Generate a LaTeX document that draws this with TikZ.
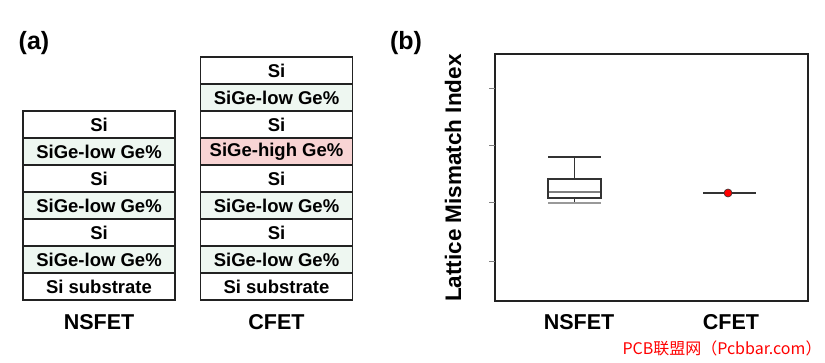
\documentclass[tikz,border=0pt]{standalone}
\usepackage{fontspec}
\setmainfont{Liberation Sans}
\newfontfamily\cjk{Noto Sans CJK SC}

\begin{document}
\begin{tikzpicture}[x=1pt, y=-1pt,
    layer/.style={draw=borderColour, line width=1.2pt, minimum width=152pt,
        minimum height=\layerH pt, inner sep=0pt,
        font=\fontsize{18.5}{20}\selectfont\bfseries},
    stackLabel/.style={font=\fontsize{21.5}{24}\selectfont\bfseries},
    panelLabel/.style={font=\fontsize{25}{28}\selectfont\bfseries}]
    \definecolor{borderColour}{HTML}{222222}
    \definecolor{fillColourLow}{HTML}{EEF7F1}
    \definecolor{fillColourHigh}{HTML}{F8D4D4}
    \definecolor{boxColour}{HTML}{333333}

    \def\layerH{27}

    % Fix the page size
    \useasboundingbox (0,0) rectangle (825,363);

    % Panel labels
    \node[panelLabel] (labA) at (34,43) {(a)};
    \node[panelLabel] (labB) at (406,43) {(b)};

    % NSFET stack, top to bottom
    \foreach \txt/\fc [count=\i] in {Si/white, SiGe-low Ge\%/fillColourLow,
            Si/white, SiGe-low Ge\%/fillColourLow, Si/white,
            SiGe-low Ge\%/fillColourLow, Si substrate/white}
        \node[layer, fill=\fc] (ns\i) at (99,{111+\layerH*(\i-0.5)}) {\txt};
    \node[stackLabel] (nsName) at (99,322) {NSFET};

    % CFET stack, top to bottom
    \foreach \txt/\fc [count=\i] in {Si/white, SiGe-low Ge\%/fillColourLow,
            Si/white, SiGe-high Ge\%/fillColourHigh, Si/white,
            SiGe-low Ge\%/fillColourLow, Si/white,
            SiGe-low Ge\%/fillColourLow, Si substrate/white}
        \node[layer, fill=\fc] (cf\i) at (276.5,{57+\layerH*(\i-0.5)}) {\txt};
    \node[stackLabel] (cfName) at (276.5,322) {CFET};

    % Plot frame
    \draw[line width=2pt, borderColour] (495,54) rectangle (808,301);
    \foreach \y in {88,145,202,261}
        \draw[gray, line width=0.6pt] (489,\y) -- (495,\y);

    % Axis labels
    \node[rotate=90, font=\fontsize{22.5}{24}\selectfont\bfseries] (yLab) at (453,178) {Lattice Mismatch Index};
    \node[stackLabel] (xNs) at (579,322) {NSFET};
    \node[stackLabel] (xCf) at (731,322) {CFET};

    % NSFET box plot
    \draw[boxColour, line width=1.2pt] (548,157) -- (601,157);
    \draw[boxColour, line width=1.2pt] (574.5,157) -- (574.5,179);
    \draw[boxColour, line width=1.2pt, fill=white] (548,179) rectangle (601,198);
    \draw[gray, line width=1.4pt] (549,192) -- (600,192);
    \draw[boxColour, line width=1.2pt] (574.5,198) -- (574.5,203);
    \draw[gray!80, line width=1.6pt] (548,203) -- (601,203);

    % CFET single value
    \draw[boxColour, line width=1.5pt] (703,193) -- (756,193);
    \fill[red, draw=boxColour, line width=0.6pt] (728,193) circle (4);

    % Watermark
    \node[red, font=\cjk\fontsize{16}{18}\selectfont] (mark) at (722,348) {PCB联盟网（Pcbbar.com）};

\end{tikzpicture}
\end{document}
